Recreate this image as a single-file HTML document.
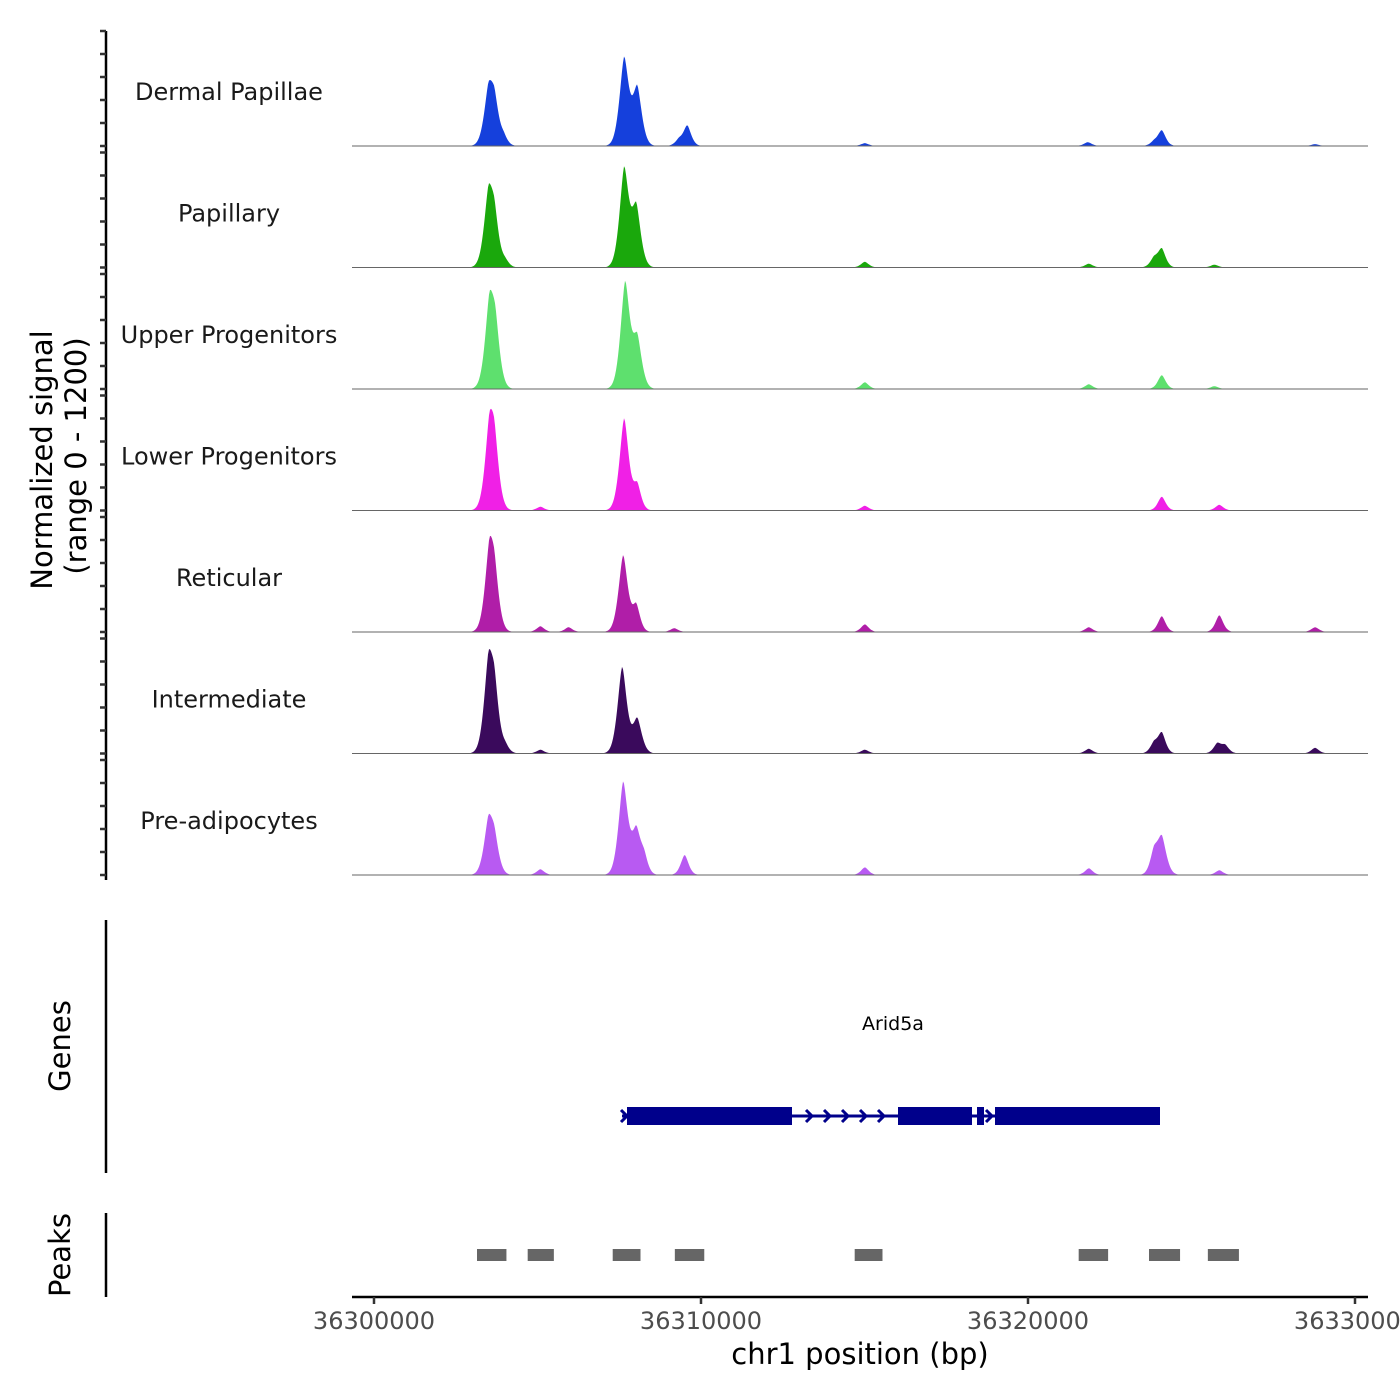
<!DOCTYPE html>
<html><head><meta charset="utf-8"><style>
body{margin:0;background:#fff}
svg{display:block;font-family:"DejaVu Sans","Liberation Sans",sans-serif}
</style></head><body>
<svg id="chart" width="1400" height="1400" viewBox="0 0 1400 1400" xmlns="http://www.w3.org/2000/svg">
<g id="tracks"></g>
<line x1="106" y1="31" x2="106" y2="880" stroke="#000" stroke-width="2.5"/>
<g id="yticks"></g>
<text transform="translate(52,460) rotate(-90)" text-anchor="middle" font-size="29">Normalized signal</text>
<text transform="translate(86,456) rotate(-90)" text-anchor="middle" font-size="29">(range 0 - 1200)</text>

<line x1="106" y1="920" x2="106" y2="1173" stroke="#000" stroke-width="2.5"/>
<text transform="translate(70,1046) rotate(-90)" text-anchor="middle" font-size="29">Genes</text>
<g fill="#00008b" stroke="#00008b">
<text x="893" y="1030" text-anchor="middle" font-size="19" fill="#000" stroke="none">Arid5a</text>
<line x1="622" y1="1116" x2="1160" y2="1116" stroke-width="3"/>
<rect x="627" y="1107" width="165" height="18" stroke="none"/>
<rect x="898" y="1107" width="74" height="18" stroke="none"/>
<rect x="977" y="1107" width="7" height="18" stroke="none"/>
<rect x="995" y="1107" width="165" height="18" stroke="none"/>
<g fill="none" stroke-width="3">
<path d="M621 1110 l6 6 l-6 6"/><path d="M806 1110 l6 6 l-6 6"/><path d="M824 1110 l6 6 l-6 6"/><path d="M842 1110 l6 6 l-6 6"/><path d="M860 1110 l6 6 l-6 6"/><path d="M878 1110 l6 6 l-6 6"/><path d="M986 1110 l6 6 l-6 6"/>
</g></g>

<line x1="106" y1="1213" x2="106" y2="1297" stroke="#000" stroke-width="2.5"/>
<text transform="translate(70,1255) rotate(-90)" text-anchor="middle" font-size="29">Peaks</text>
<g id="peaks"></g>

<line x1="352" y1="1297" x2="1368" y2="1297" stroke="#000" stroke-width="2.5"/>
<g id="xticks"></g>
<text x="860" y="1364" text-anchor="middle" font-size="29">chr1 position (bp)</text>
</svg>
<script>
const trackNames = ["Dermal Papillae","Papillary","Upper Progenitors","Lower Progenitors","Reticular","Intermediate","Pre-adipocytes"];
const trackColors = ["#1540dc","#1aa80c","#5ee06e","#f020e6","#b01ea8","#3a0a5c","#b85af2"];
const xTicks = [36300000,36310000,36320000,36330000];
// peak centers (bp offset from 36300000) and heights (signal units, 0-1200) per track
const pkPos0 = [3500,3680,3970,7650,8050,9320,9580,15010,21830,23850,24090,28780];
const pkVal0 = [500,400,80,910,600,60,210,30,40,40,160,20];
const pkPos1 = [3500,3680,4020,7650,8020,15010,21860,23850,24090,25700];
const pkVal1 = [680,440,60,1020,620,60,40,90,190,30];
const pkPos2 = [3530,3710,7680,8050,15010,21860,24090,25700];
const pkVal2 = [790,540,1100,520,70,50,145,30];
const pkPos3 = [3530,3680,5090,7650,8050,15010,24090,25850];
const pkVal3 = [730,570,40,960,260,50,145,60];
const pkPos4 = [3530,3680,5090,5950,7620,8020,9180,15010,21860,24090,25850,28780];
const pkVal4 = [740,470,60,50,800,270,40,80,50,165,175,50];
const pkPos5 = [3500,3680,4020,5090,7590,8050,15010,21860,23850,24090,25790,26030,28780];
const pkVal5 = [830,570,70,40,900,360,40,50,100,210,100,80,60];
const pkPos6 = [3500,3680,5090,7620,8020,8260,9500,15010,21860,23850,24090,25850];
const pkVal6 = [500,310,60,960,450,160,210,80,70,210,385,50];
const pkPositions=[pkPos0,pkPos1,pkPos2,pkPos3,pkPos4,pkPos5,pkPos6];
const pkValues=[pkVal0,pkVal1,pkVal2,pkVal3,pkVal4,pkVal5,pkVal6];
const peakStarts = [3150,4700,7300,9200,14700,21550,23700,25500];
const peakEnds = [4050,5500,8150,10100,15550,22450,24650,26450];

const NS="http://www.w3.org/2000/svg";
const X0=36300000, PX0=374, PXPERBP=327/10000;
function xScale(bp){return PX0+(bp-X0)*PXPERBP;}
function xRel(off){return xScale(X0+off);}
const base0=146, trackH=121.5, unitPx=115/1200;
function yScale(v,i){return base0+i*trackH - v*unitPx;}
const tracks=document.getElementById('tracks');
const yt=document.getElementById('yticks');
for(let i=0;i<trackNames.length;i++){
  const pos=pkPositions[i], val=pkValues[i];
  let d="M352 "+yScale(0,i);
  for(let x=352;x<=1368;x+=1){
    let v=0;
    for(let k=0;k<pos.length;k++){const s=xRel(pos[k]);const w=val[k]>300?4.2:3.6;const dx=(x-s)/w;v+=val[k]*Math.exp(-Math.pow(Math.abs(dx),1.6)/2);}
    d+=" L"+x+" "+yScale(v,i).toFixed(1);
  }
  d+=" L1368 "+yScale(0,i)+" Z";
  const p=document.createElementNS(NS,'path');
  
  
  p.setAttribute('d',d);p.setAttribute('fill',trackColors[i]);
  tracks.appendChild(p);
  const bl=document.createElementNS(NS,'line');
  
  
  bl.setAttribute('x1',352);bl.setAttribute('x2',1368);bl.setAttribute('y1',yScale(0,i));bl.setAttribute('y2',yScale(0,i));
  bl.setAttribute('stroke','#666');bl.setAttribute('stroke-width','1');
  tracks.appendChild(bl);
  const t=document.createElementNS(NS,'text');
  
  
  t.setAttribute('x',229);t.setAttribute('y',base0+i*trackH-46);t.setAttribute('text-anchor','middle');t.setAttribute('font-size','24');t.setAttribute('fill','#1a1a1a');
  t.textContent=trackNames[i];tracks.appendChild(t);
  for(let v=0;v<=1200;v+=240){
    const y=yScale(v,i);
    const tk=document.createElementNS(NS,'line');
    
    
    tk.setAttribute('x1',100);tk.setAttribute('x2',106);tk.setAttribute('y1',y);tk.setAttribute('y2',y);tk.setAttribute('stroke','#333');tk.setAttribute('stroke-width','2.5');
    yt.appendChild(tk);
  }
}
const pk=document.getElementById('peaks');
for(let i=0;i<peakStarts.length;i++){
  const r=document.createElementNS(NS,'rect');
  
  
  const a=xRel(peakStarts[i]),b=xRel(peakEnds[i]);
  r.setAttribute('x',a);r.setAttribute('width',b-a);r.setAttribute('y',1249);r.setAttribute('height',12);r.setAttribute('fill','#666');
  pk.appendChild(r);
}
const xt=document.getElementById('xticks');
for(const v of xTicks){
  const x=xScale(v);
  const l=document.createElementNS(NS,'line');
  
  
  l.setAttribute('x1',x);l.setAttribute('x2',x);l.setAttribute('y1',1297);l.setAttribute('y2',1304);l.setAttribute('stroke','#333');l.setAttribute('stroke-width','2.5');
  xt.appendChild(l);
  const t=document.createElementNS(NS,'text');
  
  
  t.setAttribute('x',x);t.setAttribute('y',1329);t.setAttribute('text-anchor','middle');t.setAttribute('font-size','24');t.setAttribute('fill','#4d4d4d');
  t.textContent=v;xt.appendChild(t);
}
</script>
</body></html>
